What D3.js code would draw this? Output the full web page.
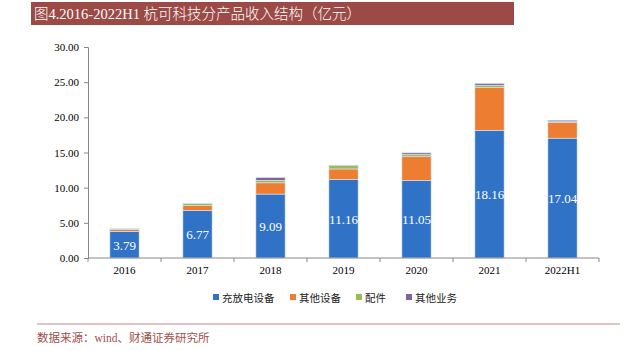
<!DOCTYPE html>
<html><head><meta charset="utf-8">
<script src="https://cdn.jsdelivr.net/npm/d3@7"></script>
<style>body{margin:0;background:#fff;} svg{display:block;}</style>
</head><body>
<svg id="c" width="631" height="351"></svg>
<script>
const categories = ["2016","2017","2018","2019","2020","2021","2022H1"];
const seriesNames = ["充放电设备","其他设备","配件","其他业务"];
const chargeEquip = [3.79, 6.77, 9.09, 11.16, 11.05, 18.16, 17.04];
const otherEquip  = [0.25, 0.67, 1.60, 1.50, 3.35, 6.06, 2.20];
const parts       = [0.10, 0.30, 0.35, 0.50, 0.35, 0.35, 0.15];
const otherBiz    = [0.02, 0.02, 0.40, 0.05, 0.20, 0.25, 0.20];
const yTicks = [0,5,10,15,20,25,30];
const colors = ["#2F72C6","#ED7D31","#9BBB59","#8064A2"];

const svg = d3.select("#c");
const serif = "'Liberation Serif','Times New Roman','Noto Sans CJK SC',serif";
const cjk = "'Liberation Serif','Noto Sans CJK SC',serif";

// title
svg.append("rect").attr("x",31).attr("y",2).attr("width",483).attr("height",23).attr("fill","#9B4A46");
svg.append("text").attr("x",34).attr("y",19).attr("fill","#fff")
  .style("font-family",cjk).style("font-size","14.5px").style("font-weight","300").text("图4.2016-2022H1 杭可科技分产品收入结构（亿元）");

const x = d3.scaleBand().domain(categories).range([88,599]).paddingInner(0.6).paddingOuter(0.3);
const y = d3.scaleLinear().domain([0,30]).range([258,47]);

const rows = categories.map((c,i)=>({cat:c, s0:chargeEquip[i], s1:otherEquip[i], s2:parts[i], s3:otherBiz[i]}));
const stack = d3.stack().keys(["s0","s1","s2","s3"])(rows);

svg.append("g").selectAll("g").data(stack).join("g").attr("fill",(d,i)=>colors[i])
 .selectAll("rect").data(d=>d).join("rect")
 .attr("x",d=>x(d.data.cat)).attr("width",x.bandwidth())
 .attr("y",d=>y(d[1])).attr("height",d=>y(d[0])-y(d[1]))
 .attr("stroke","#dbe6f5").attr("stroke-width",0.6);

// labels
svg.append("g").selectAll("text").data(rows).join("text")
 .attr("x",d=>x(d.cat)+x.bandwidth()/2).attr("y",d=>(y(0)+y(d.s0))/2+5)
 .attr("text-anchor","middle").attr("fill","#fff")
 .style("font-family",serif).style("font-size","13px").text(d=>d.s0.toFixed(2));

// y axis
const ya = svg.append("g").attr("transform","translate(88,0)")
 .call(d3.axisLeft(y).tickValues(yTicks).tickSize(4).tickFormat(d=>d.toFixed(2)));
ya.selectAll("path,line").attr("stroke","#888");
ya.selectAll("text").style("font-family",serif).style("font-size","11px").attr("fill","#000").attr("dx","-2");

// x axis
const xa = svg.append("g").attr("transform","translate(0,258)");
xa.append("line").attr("x1",88).attr("x2",599).attr("stroke","#888");
const bounds = categories.map(c=>x(c)-x.step()*x.paddingInner()/2);
bounds.push(599);
xa.selectAll("line.t").data(bounds).join("line").attr("class","t")
 .attr("x1",d=>d).attr("x2",d=>d).attr("y1",0).attr("y2",4).attr("stroke","#888");
xa.selectAll("text").data(categories).join("text")
 .attr("x",d=>x(d)+x.bandwidth()/2).attr("y",16).attr("text-anchor","middle")
 .style("font-family",serif).style("font-size","11px").text(d=>d);

// legend
const legX = [213,290,356,406];
const lg = svg.append("g");
seriesNames.forEach((n,i)=>{
  lg.append("rect").attr("x",legX[i]).attr("y",294).attr("width",6).attr("height",6).attr("fill",colors[i]);
  lg.append("text").attr("x",legX[i]+9).attr("y",301.5).style("font-family",cjk).style("font-size","10.5px").attr("fill","#222").text(n);
});

// source
svg.append("line").attr("x1",37).attr("x2",620).attr("y1",324).attr("y2",324).attr("stroke","#C48A88").attr("stroke-width",1.2);
svg.append("text").attr("x",37).attr("y",342).attr("fill","#A0504C")
 .style("font-family",cjk).style("font-size","11.5px").text("数据来源：wind、财通证券研究所");
</script>
</body></html>
